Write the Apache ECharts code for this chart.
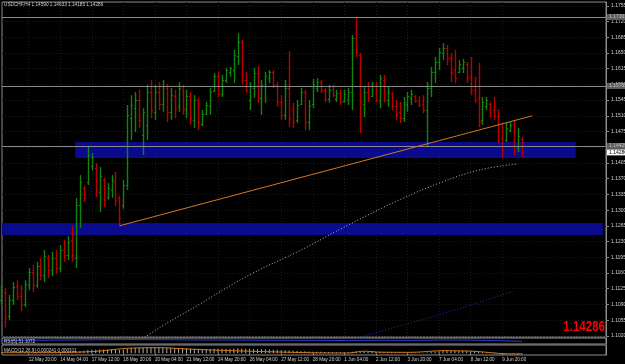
<!DOCTYPE html>
<html><head><meta charset="utf-8">
<script src="https://cdn.jsdelivr.net/npm/echarts@6/dist/echarts.min.js"></script>
<style>html,body{margin:0;padding:0;background:#000;}#c{width:625px;height:364px;}</style>
</head><body><div id="c"></div>
<script>
// ---------- data ----------
const symbolTitle = 'USDCHF,H4';
const lastBarOHLC = [1.14590, 1.14633, 1.14185, 1.14286];
const bidPrice = 1.14286;
// rows: [open, close, low, high]
const ohlcRows = [
[1.1100,1.1122,1.1089,1.1133],[1.1118,1.1060,1.1038,1.1127],[1.1064,1.1100,1.1055,1.1111],[1.1100,1.1129,1.1089,1.1140],
[1.1131,1.1109,1.1100,1.1144],[1.1109,1.1089,1.1075,1.1133],[1.1091,1.1136,1.1084,1.1144],[1.1133,1.1162,1.1122,1.1171],
[1.1162,1.1133,1.1118,1.1178],[1.1133,1.1176,1.1127,1.1185],[1.1176,1.1156,1.1144,1.1193],[1.1156,1.1198,1.1140,1.1211],
[1.1193,1.1167,1.1149,1.1200],[1.1167,1.1193,1.1153,1.1207],[1.1193,1.1171,1.1158,1.1211],[1.1171,1.1211,1.1162,1.1222],
[1.1211,1.1200,1.1185,1.1234],[1.1200,1.1229,1.1189,1.1242],[1.1234,1.1200,1.1185,1.1265],[1.1193,1.1311,1.1171,1.1327],
[1.1311,1.1363,1.1260,1.1378],[1.1349,1.1327,1.1318,1.1354],[1.1363,1.1423,1.1356,1.1443],[1.1398,1.1418,1.1389,1.1427],
[1.1394,1.1345,1.1329,1.1405],[1.1340,1.1376,1.1296,1.1396],[1.1367,1.1323,1.1307,1.1372],[1.1329,1.1349,1.1323,1.1360],
[1.1345,1.1367,1.1327,1.1378],[1.1363,1.1323,1.1309,1.1385],[1.1327,1.1282,1.1265,1.1331],[1.1311,1.1356,1.1303,1.1367],
[1.1356,1.1512,1.1345,1.1534],[1.1505,1.1534,1.1456,1.1556],[1.1527,1.1545,1.1474,1.1563],[1.1545,1.1501,1.1483,1.1568],
[1.1467,1.1519,1.1423,1.1527],[1.1490,1.1563,1.1456,1.1579],[1.1563,1.1523,1.1505,1.1590],[1.1519,1.1563,1.1501,1.1579],
[1.1563,1.1536,1.1523,1.1585],[1.1536,1.1576,1.1519,1.1590],[1.1572,1.1519,1.1496,1.1581],[1.1519,1.1556,1.1501,1.1572],
[1.1554,1.1527,1.1505,1.1568],[1.1532,1.1572,1.1519,1.1585],[1.1568,1.1527,1.1512,1.1579],[1.1523,1.1554,1.1505,1.1568],
[1.1554,1.1505,1.1490,1.1563],[1.1501,1.1545,1.1483,1.1556],[1.1545,1.1496,1.1478,1.1550],[1.1492,1.1514,1.1487,1.1523],
[1.1514,1.1534,1.1512,1.1541],[1.1532,1.1563,1.1512,1.1572],[1.1565,1.1599,1.1563,1.1605],[1.1599,1.1559,1.1552,1.1608],
[1.1559,1.1590,1.1552,1.1601],[1.1590,1.1612,1.1583,1.1617],[1.1608,1.1617,1.1597,1.1619],[1.1612,1.1646,1.1583,1.1657],
[1.1643,1.1674,1.1623,1.1694],[1.1674,1.1590,1.1579,1.1679],[1.1590,1.1568,1.1561,1.1608],[1.1545,1.1576,1.1523,1.1585],
[1.1572,1.1605,1.1550,1.1617],[1.1605,1.1550,1.1539,1.1621],[1.1550,1.1579,1.1512,1.1590],[1.1576,1.1599,1.1539,1.1608],
[1.1594,1.1608,1.1583,1.1612],[1.1608,1.1579,1.1572,1.1612],[1.1579,1.1541,1.1530,1.1585],[1.1541,1.1512,1.1501,1.1556],
[1.1512,1.1572,1.1501,1.1590],[1.1572,1.1505,1.1485,1.1654],[1.1523,1.1496,1.1483,1.1539],[1.1501,1.1534,1.1494,1.1545],
[1.1536,1.1563,1.1534,1.1572],[1.1563,1.1496,1.1478,1.1568],[1.1496,1.1532,1.1478,1.1545],[1.1536,1.1581,1.1527,1.1592],
[1.1572,1.1585,1.1563,1.1594],[1.1585,1.1568,1.1561,1.1590],[1.1568,1.1548,1.1541,1.1572],[1.1548,1.1568,1.1539,1.1579],
[1.1570,1.1556,1.1552,1.1579],[1.1548,1.1561,1.1541,1.1568],[1.1561,1.1541,1.1534,1.1568],[1.1543,1.1559,1.1539,1.1568],
[1.1545,1.1563,1.1534,1.1572],[1.1563,1.1683,1.1523,1.1690],[1.1683,1.1652,1.1641,1.1728],[1.1645,1.1541,1.1472,1.1650],
[1.1536,1.1563,1.1507,1.1574],[1.1563,1.1550,1.1541,1.1585],[1.1554,1.1576,1.1552,1.1585],[1.1576,1.1545,1.1539,1.1585],
[1.1545,1.1594,1.1527,1.1601],[1.1590,1.1545,1.1539,1.1601],[1.1545,1.1563,1.1530,1.1574],[1.1559,1.1532,1.1523,1.1563],
[1.1532,1.1514,1.1501,1.1545],[1.1519,1.1505,1.1494,1.1541],[1.1505,1.1541,1.1496,1.1552],[1.1536,1.1554,1.1519,1.1563],
[1.1550,1.1559,1.1534,1.1568],[1.1554,1.1543,1.1539,1.1556],[1.1545,1.1534,1.1530,1.1554],[1.1536,1.1523,1.1516,1.1556],
[1.1523,1.1572,1.1441,1.1585],[1.1572,1.1608,1.1552,1.1619],[1.1608,1.1630,1.1583,1.1641],[1.1630,1.1652,1.1612,1.1661],
[1.1650,1.1661,1.1634,1.1672],[1.1661,1.1639,1.1623,1.1668],[1.1639,1.1608,1.1585,1.1650],[1.1612,1.1594,1.1583,1.1657],
[1.1608,1.1625,1.1605,1.1634],[1.1617,1.1630,1.1605,1.1637],[1.1625,1.1594,1.1583,1.1630],[1.1599,1.1568,1.1556,1.1641],
[1.1568,1.1545,1.1539,1.1597],[1.1550,1.1496,1.1485,1.1628],[1.1501,1.1541,1.1490,1.1552],[1.1532,1.1545,1.1523,1.1552],
[1.1536,1.1519,1.1507,1.1541],[1.1523,1.1510,1.1501,1.1552],[1.1510,1.1456,1.1450,1.1525],[1.1461,1.1434,1.1416,1.1494],
[1.1456,1.1483,1.1452,1.1494],[1.1478,1.1490,1.1474,1.1496],[1.1492,1.1434,1.1423,1.1501],[1.1438,1.1465,1.1429,1.1483],
[1.14590,1.14286,1.14185,1.14633]
];
const timeTickIdx = [0,7,15,23,31,39,47,55,63,71,79,87,95,103,111,119,127];
const timeTickLabels = ['11 May 2010','12 May 20:00','14 May 04:00','17 May 12:00','18 May 20:00','20 May 04:00','21 May 12:00','24 May 20:00','26 May 04:00','27 May 12:00','28 May 20:00','1 Jun 04:00','2 Jun 12:00','3 Jun 20:00','7 Jun 04:00','8 Jun 12:00','9 Jun 20:00'];
const priceTicks = [1.17550,1.17200,1.16850,1.16500,1.16150,1.15800,1.15450,1.15100,1.14750,1.14400,1.14050,1.13700,1.13350,1.13000,1.12650,1.12300,1.11950,1.11600,1.11250,1.10900,1.10550,1.10200];
const hLinePrices = [1.17301, 1.15765, 1.14429];
// rectangles: [fromBar, topPrice, toBar, bottomPrice]
const zoneRects = [[18.8,1.14518,145.6,1.14161],[-0.5,1.12714,152.5,1.12447]];
const trendBars = [30, 134.6];
const trendPrices = [1.1265, 1.1510];
const maSlowBars = [35,37,50,63,76,88,101,111,121,131];
const maSlowVals = [1.1000,1.1020,1.1089,1.1156,1.1211,1.1267,1.1323,1.1360,1.1389,1.1403];
const maLongBars = [90,101,114,123,130];
const maLongVals = [1.1015,1.1042,1.1075,1.1100,1.1120];
const rsiBars = [0,8,16,24,32,40,48,56,64,72,80,88,96,104,112,120,128,132];
const rsiVals = [55,62,66,70,74,72,68,66,64,62,60,58,62,60,66,64,52,44];
const macdHist = [
0.0001,0.0001,0.0000,0.0000,0.0001,0.0001,0.0001,0.0002,0.0002,0.0003,
0.0003,0.0004,0.0004,0.0005,0.0005,0.0006,0.0006,0.0007,0.0007,0.0010,
0.0014,0.0016,0.0020,0.0022,0.0022,0.0023,0.0023,0.0023,0.0024,0.0023,
0.0022,0.0023,0.0028,0.0031,0.0033,0.0034,0.0034,0.0035,0.0035,0.0035,
0.0035,0.0034,0.0033,0.0033,0.0032,0.0032,0.0031,0.0030,0.0029,0.0028,
0.0027,0.0026,0.0026,0.0026,0.0027,0.0027,0.0027,0.0028,0.0028,0.0029,
0.0030,0.0029,0.0028,0.0027,0.0026,0.0025,0.0024,0.0024,0.0023,0.0022,
0.0021,0.0019,0.0018,0.0017,0.0015,0.0014,0.0013,0.0012,0.0011,0.0010,
0.0010,0.0009,0.0008,0.0008,0.0007,0.0007,0.0006,0.0006,0.0006,0.0009,
0.0012,0.0011,0.0010,0.0009,0.0009,0.0008,0.0008,0.0007,0.0007,0.0006,
0.0005,0.0004,0.0004,0.0004,0.0004,0.0003,0.0003,0.0002,0.0005,0.0008,
0.0011,0.0013,0.0015,0.0016,0.0015,0.0014,0.0014,0.0014,0.0013,0.0012,
0.0011,0.0008,0.0006,0.0005,0.0004,0.0003,0.0001,-0.0002,-0.0003,-0.0003,
-0.0005,-0.0005,-0.0006];
const macdSigBars = [0,8,16,24,32,40,48,56,64,72,80,88,92,96,104,112,120,128,132];
const macdSigVals = [0.0004,0.0004,0.0005,0.0012,0.0030,0.0034,0.0025,0.0018,0.0012,0.0007,0.0003,0.0002,0.0013,0.0007,0.0006,0.0016,0.0012,-0.0003,-0.0004];

// ---------- layout/style ----------
const X_MIN = 0.25, X_MAX = 153.3;
const Y_MIN = 1.10175, Y_MAX = 1.17635;
const UP = '#0e860e', DOWN = '#b80000';
const AX = '#8c8c8c', TXT = '#d0d0d0';
const GRIDC = '#1a1a1a';
const FONT = 'Liberation Sans';

const chart = echarts.init(document.getElementById('c'), null, {renderer:'canvas'});
const xBase = (g) => ({type:'value', gridIndex:g, min:X_MIN, max:X_MAX,
  axisLine:{show:false}, axisTick:{show:false}, axisLabel:{show:false}, splitLine:{show:false}});

const tagLabel = (txt, bg, fg) => ({show:true, position:'end', distance:1, formatter:txt, fontSize:5,
  fontFamily:FONT, color:fg, backgroundColor:bg, padding:[1,2,0,2], opacity:1});

const gridBase = {left:2, width:604, show:true, borderColor:AX, borderWidth:1,
  containLabel:false, outerBoundsMode:'none'};

const option = {
  backgroundColor:'#000',
  animation:false,
  grid:[
    Object.assign({}, gridBase, {top:2, height:335}),
    Object.assign({}, gridBase, {top:338, height:6}),
    Object.assign({}, gridBase, {top:345, height:10})
  ],
  xAxis:[
    Object.assign(xBase(0), {axisTick:{show:false, customValues:timeTickIdx},
      splitLine:{show:true, lineStyle:{color:GRIDC, type:[1,2]}}}),
    xBase(1),
    Object.assign(xBase(2), {
      axisLine:{show:false},
      axisTick:{show:true, customValues:timeTickIdx, length:2, lineStyle:{color:AX}},
      axisLabel:{show:true, customValues:timeTickIdx, align:'left', margin:2, fontSize:4.6,
        fontFamily:FONT, color:TXT,
        formatter:(v)=>{const k=timeTickIdx.indexOf(Math.round(v)); return k>=0?timeTickLabels[k]:'';}}
    })
  ],
  yAxis:[
    {type:'value', gridIndex:0, position:'right', min:Y_MIN, max:Y_MAX,
      axisLine:{show:true, lineStyle:{color:AX}},
      axisTick:{show:true, length:3, customValues:priceTicks, lineStyle:{color:AX}},
      axisLabel:{show:true, customValues:priceTicks, formatter:(v)=>v.toFixed(5), fontSize:5,
        fontFamily:FONT, color:TXT, margin:5},
      splitLine:{show:true, lineStyle:{color:GRIDC, type:[1,2]}}},
    {type:'value', gridIndex:1, position:'right', min:0, max:100,
      axisLine:{show:true, lineStyle:{color:AX}}, axisTick:{show:false}, axisLabel:{show:false}, splitLine:{show:false}},
    {type:'value', gridIndex:2, position:'right', min:-0.001, max:0.005,
      axisLine:{show:true, lineStyle:{color:AX}}, axisTick:{show:false}, axisLabel:{show:false}, splitLine:{show:false}}
  ],
  series:[
    { // zones
      type:'line', xAxisIndex:0, yAxisIndex:0, data:[], silent:true, z:1,
      markArea:{silent:true, precision:6, itemStyle:{color:'#0a0a8c', opacity:1},
        data: zoneRects.map(r=>[{coord:[r[0], r[1]]},{coord:[r[2], r[3]]}])}
    },
    { type:'line', xAxisIndex:0, yAxisIndex:0, z:3, symbol:'none', smooth:0.4,
      data: maSlowBars.map((b,k)=>[b, maSlowVals[k]]),
      lineStyle:{color:'#b8b8b8', width:1, type:[1,2]} },
    { type:'line', xAxisIndex:0, yAxisIndex:0, z:3, symbol:'none', smooth:0.3,
      data: maLongBars.map((b,k)=>[b, maLongVals[k]]),
      lineStyle:{color:'#2828c8', width:1, type:[1,2]} },
    { type:'custom', xAxisIndex:0, yAxisIndex:0, z:4,
      data: ohlcRows.map((r,i)=>[i, r[0], r[1], r[2], r[3]]),
      encode:{x:0, y:[1,2,3,4]},
      renderItem:(params, api)=>{
        const i=api.value(0), o=api.value(1), c=api.value(2), l=api.value(3), h=api.value(4);
        const pH=api.coord([i,h]), pL=api.coord([i,l]), pO=api.coord([i,o]), pC=api.coord([i,c]);
        const x=Math.round(pH[0])+0.5;
        const col = c>=o ? UP : DOWN;
        return {type:'group', children:[
          {type:'line', shape:{x1:x,y1:pH[1],x2:x,y2:pL[1]}, style:{stroke:col, lineWidth:1.4}},
          {type:'line', shape:{x1:x-1.6,y1:Math.round(pO[1])+0.5,x2:x,y2:Math.round(pO[1])+0.5}, style:{stroke:col, lineWidth:1}},
          {type:'line', shape:{x1:x,y1:Math.round(pC[1])+0.5,x2:x+1.6,y2:Math.round(pC[1])+0.5}, style:{stroke:col, lineWidth:1}}
        ]};
      }
    },
    { type:'line', xAxisIndex:0, yAxisIndex:0, z:5, symbol:'none',
      data: trendBars.map((b,k)=>[b, trendPrices[k]]),
      lineStyle:{color:'#d2781e', width:1} },
    { type:'line', xAxisIndex:0, yAxisIndex:0, z:6, data:[], silent:true,
      markLine:{symbol:'none', silent:true, animation:false, precision:6,
        data: hLinePrices.map(v=>({yAxis:v, lineStyle:{color:'#8a8a8a', width:1, type:'solid'},
          label:tagLabel(v.toFixed(5), '#5e5e5e', '#c0c0c0')}))}
    },
    { type:'line', xAxisIndex:0, yAxisIndex:0, z:7, data:[], silent:true,
      markLine:{symbol:'none', silent:true, animation:false, precision:6,
        data:[{yAxis:bidPrice, lineStyle:{color:'rgba(0,0,0,0)', width:0.01, type:'solid'},
          label:tagLabel(bidPrice.toFixed(5), '#ffffff', '#000000')}]}
    },
    { type:'line', xAxisIndex:1, yAxisIndex:1, symbol:'none',
      data: rsiBars.map((b,k)=>[b, rsiVals[k]]),
      lineStyle:{color:'#2a3cd0', width:1} },
    { type:'bar', xAxisIndex:2, yAxisIndex:2, barWidth:1,
      data: macdHist.map((v,i)=>[i, v]), itemStyle:{color:'#b0b0b0'} },
    { type:'line', xAxisIndex:2, yAxisIndex:2, symbol:'none', smooth:0.3,
      data: macdSigBars.map((b,k)=>[b, macdSigVals[k]]),
      lineStyle:{color:'#d2781e', width:1} }
  ],
  graphic:[
    {type:'text', x:4, y:5, z:100, style:{text: symbolTitle+' '+lastBarOHLC.map(v=>v.toFixed(5)).join(' '),
      font:'4.7px '+FONT, fill:TXT, verticalAlign:'middle'}},
    {type:'text', x:4, y:341.5, z:100, style:{text:'RSI(5) 51.1072', font:'4.6px '+FONT, fill:TXT, verticalAlign:'middle'}},
    {type:'text', x:4, y:350.5, z:100, style:{text:'MACD(12,26,9) 0.000241 0.000311', font:'4.6px '+FONT, fill:TXT, verticalAlign:'middle'}},
    {type:'text', x:605, y:334, scaleX:0.77, z:100, style:{text: bidPrice.toFixed(5),
      font:'bold 15px '+FONT, fill:'#ff0000', align:'right', verticalAlign:'bottom'}}
  ]
};
chart.setOption(option);
</script></body></html>
